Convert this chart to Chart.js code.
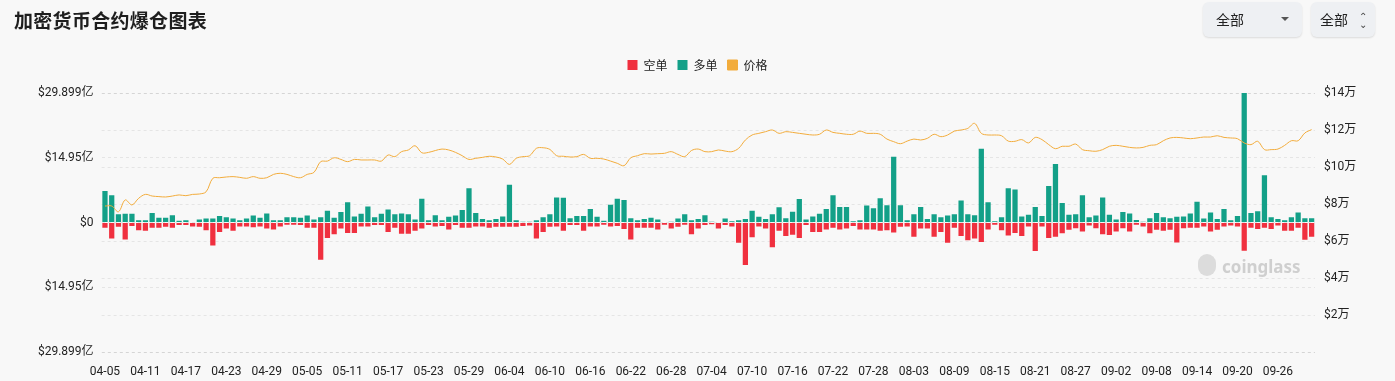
<!DOCTYPE html>
<html>
<head>
<meta charset="utf-8">
<script src="https://cdn.jsdelivr.net/npm/chart.js@4.4.1/dist/chart.umd.min.js"></script>
<style>
  html, body { margin:0; padding:0; background:#f8f8f8; width:1395px; height:381px; overflow:hidden; }
  #wrap { position:relative; width:1395px; height:381px; }
  #c { position:absolute; left:0; top:0; }
  .title { position:absolute; left:14px; top:6px; font-family:"Noto Sans CJK SC","Noto Sans",sans-serif; font-weight:700; font-size:19px; color:#1e1e1e; letter-spacing:0.3px; }
  .dd { position:absolute; top:2px; height:35px; background:#eef0f3; border-radius:6px; box-shadow:0 1px 2px rgba(0,0,0,0.12); font-family:"Noto Sans CJK SC","Noto Sans",sans-serif; font-size:14px; color:#222; line-height:35px; box-sizing:border-box; }
  .dd1 { left:1203px; width:99px; padding-left:13px; }
  .dd2 { left:1311px; width:64px; padding-left:9px; }
  .caret { position:absolute; right:13px; top:15px; width:0; height:0; border-left:4px solid transparent; border-right:4px solid transparent; border-top:4px solid #555; }
  .updown { position:absolute; right:8px; top:0; font-size:10px; color:#444; line-height:8px; padding-top:10px; text-align:center; }
  .wm { position:absolute; left:1222px; top:255px; font-family:"Noto Sans","DejaVu Sans",sans-serif; font-weight:700; font-size:17px; color:#cfcfcf; }
  .wmdot { position:absolute; left:1198px; top:254px; width:18px; height:22px; border-radius:9px; background:#dcdcdc; }
</style>
</head>
<body>
<div id="wrap">
  <canvas id="c" width="1395" height="381"></canvas>
  <div class="title">加密货币合约爆仓图表</div>
  <div class="dd dd1">全部<span class="caret"></span></div>
  <div class="dd dd2">全部<span class="updown">&#8963;<br>&#8964;</span></div>
  <div class="wmdot"></div>
  <div class="wm">coinglass</div>
</div>
<script>
// ---- categories (dates) ----
const dates = [
'04-05','04-06','04-07','04-08','04-09','04-10','04-11','04-12','04-13','04-14','04-15','04-16','04-17','04-18','04-19','04-20','04-21','04-22','04-23','04-24','04-25','04-26','04-27','04-28','04-29','04-30',
'05-01','05-02','05-03','05-04','05-05','05-06','05-07','05-08','05-09','05-10','05-11','05-12','05-13','05-14','05-15','05-16','05-17','05-18','05-19','05-20','05-21','05-22','05-23','05-24','05-25','05-26','05-27','05-28','05-29','05-30','05-31',
'06-01','06-02','06-03','06-04','06-05','06-06','06-07','06-08','06-09','06-10','06-11','06-12','06-13','06-14','06-15','06-16','06-17','06-18','06-19','06-20','06-21','06-22','06-23','06-24','06-25','06-26','06-27','06-28','06-29','06-30',
'07-01','07-02','07-03','07-04','07-05','07-06','07-07','07-08','07-09','07-10','07-11','07-12','07-13','07-14','07-15','07-16','07-17','07-18','07-19','07-20','07-21','07-22','07-23','07-24','07-25','07-26','07-27','07-28','07-29','07-30','07-31',
'08-01','08-02','08-03','08-04','08-05','08-06','08-07','08-08','08-09','08-10','08-11','08-12','08-13','08-14','08-15','08-16','08-17','08-18','08-19','08-20','08-21','08-22','08-23','08-24','08-25','08-26','08-27','08-28','08-29','08-30','08-31',
'09-01','09-02','09-03','09-04','09-05','09-06','09-07','09-08','09-09','09-10','09-11','09-12','09-13','09-14','09-15','09-16','09-17','09-18','09-19','09-20','09-21','09-22','09-23','09-24','09-25','09-26','09-27','09-28','09-29','09-30','10-01'
];

// ---- 多单 (long liquidations, 亿 USD) ----
const longVals = [
7.3,6.3,1.9,2.0,2.0,0.5,0.5,2.2,1.1,1.1,1.7,0.4,0.5,0.1,0.7,0.9,0.9,1.5,1.2,0.9,0.5,0.9,1.6,1.1,2.1,0.5,0.5,1.2,1.2,1.1,1.6,0.7,1.2,2.7,1.1,2.4,4.7,1.4,2.0,3.7,1.2,2.0,3.0,1.9,2.1,
1.9,0.7,5.5,0.5,1.7,0.5,1.3,1.6,2.9,7.9,2.2,0.8,0.5,0.8,1.4,8.7,0.5,0.2,0.2,0.5,1.2,1.9,5.8,5.7,1.0,1.5,1.5,3.1,1.3,0.4,4.1,5.5,5.2,1.0,0.5,0.8,1.1,0.7,0.1,0.2,0.9,1.9,0.5,0.8,1.7,
0.2,0.1,0.9,0.3,0.5,0.8,2.7,1.3,0.8,1.9,3.5,1.0,2.5,5.4,0.7,1.4,2.0,3.1,6.3,3.6,3.6,0.3,0.5,3.9,3.3,5.6,4.0,15.2,4.0,0.5,1.9,3.6,0.8,1.9,1.2,1.6,1.9,5.1,1.9,1.7,17.0,4.7,0.3,1.2,7.9,
7.6,1.4,1.8,3.6,1.5,8.4,13.5,4.5,1.8,1.9,6.3,1.2,1.6,5.8,1.8,0.7,2.4,2.1,0.6,0.2,1.0,2.2,1.2,1.0,1.3,1.4,2.1,4.8,0.9,2.3,0.8,3.1,0.5,1.5,29.899,2.2,2.6,10.9,1.2,0.8,0.5,1.2,2.3,1.0,1.0
];

// ---- 空单 (short liquidations, 亿 USD, drawn below zero) ----
const shortVals = [
1.2,3.7,1.0,3.9,0.8,1.8,1.9,1.2,1.2,1.0,1.2,0.6,0.6,0.9,1.0,1.8,5.3,2.2,1.4,1.9,0.9,0.9,1.1,0.9,1.4,1.6,0.9,0.5,0.5,0.6,1.2,1.2,8.6,3.6,2.7,1.4,2.4,2.4,0.9,0.9,0.6,0.6,2.2,1.2,2.6,
2.6,1.9,1.4,0.6,0.9,0.8,1.6,0.6,1.2,1.2,0.9,0.9,1.2,1.0,1.0,1.0,1.0,0.8,0.7,3.7,2.2,1.0,0.9,1.9,0.6,0.6,1.9,0.9,0.9,0.5,0.9,0.8,1.5,3.9,1.2,1.2,1.2,1.6,0.5,1.4,1.0,0.5,2.7,1.4,0.6,
0.4,1.4,0.6,0.9,4.7,9.8,3.4,0.9,1.4,5.7,1.9,3.1,2.8,3.6,0.6,2.2,2.2,1.6,1.2,1.6,1.4,0.8,1.6,1.6,1.6,1.9,1.8,2.3,1.0,0.9,3.3,1.4,1.4,3.3,2.2,4.7,1.2,3.1,4.1,3.7,4.5,1.6,0.5,1.8,3.0,
2.4,3.1,0.9,6.6,0.9,3.6,3.3,2.5,1.7,1.3,2.1,0.7,1.3,2.7,2.9,2.1,1.3,2.1,0.5,0.9,2.5,1.7,1.9,1.7,4.6,1.3,1.2,1.2,0.9,2.1,1.7,0.9,0.7,0.9,6.5,1.2,1.5,1.2,1.5,0.7,1.9,1.9,1.2,4.0,3.3
];

// ---- 价格 (BTC price, USD) ----
const priceVals = [
78900,78900,75800,82200,79500,83100,85200,84300,84000,83800,84300,84900,84500,85200,85400,86600,93900,94200,94600,94800,94400,93900,94800,93900,94200,96000,96600,96000,94800,94200,96000,97100,102900,103200,105000,104100,102900,104100,103800,103800,103800,103200,106500,105600,108300,
109200,111500,107700,107900,108900,109700,109200,107900,106100,104100,104700,105200,105800,105400,104300,101400,104700,105600,106100,110100,110400,109500,106100,105800,105400,105600,106800,104700,104700,104300,103200,102000,100700,105000,106100,107200,107000,107200,107400,108300,106800,105600,108900,109700,108300,
108300,109200,108600,108300,110100,114600,117300,118200,119100,120000,118200,119100,118700,118200,117700,117300,117700,120000,118700,118200,117700,117700,119400,118200,118200,117700,115100,113700,112600,114000,115100,114600,115500,117700,116400,117300,119400,120000,120900,123600,118200,117300,117300,116900,114000,
113900,114800,113000,116000,114800,112100,109900,111200,111200,112400,109400,108800,108500,109400,111200,111700,111200,110600,110300,110600,111700,112100,114200,115700,116000,115700,115300,115700,116200,116200,116900,116000,115700,115300,113000,112100,113900,109400,109400,109700,111700,114200,114200,118400,120200
];

// ---- axis tick labels ----
const leftTickValues = [-29.899, -14.9495, 0, 14.9495, 29.899];
const leftTickLabels = ['$29.899亿', '$14.95亿', '$0', '$14.95亿', '$29.899亿'];
const rightTickValues = [0, 20000, 40000, 60000, 80000, 100000, 120000, 140000];
const rightTickLabels = ['', '$2万', '$4万', '$6万', '$8万', '$10万', '$12万', '$14万'];
const xLabelEvery = 6;

const RED = '#F0303F', GREEN = '#13A088', ORANGE = '#F2AC3C';
const FONT = 'Roboto, "Noto Sans CJK SC", sans-serif';
const gridColor = 'rgba(0,0,0,0.075)';

Chart.defaults.font.family = FONT;
Chart.defaults.color = '#222';

// extra gap between the legend and the plot area
const legendGap = {
  id: 'legendGap',
  afterInit(chart) {
    const lg = chart.legend;
    if (!lg) return;
    const orig = lg.fit;
    lg.fit = function () { orig.call(this); this.height += 12; };
  }
};

new Chart(document.getElementById('c'), {
  plugins: [legendGap],
  data: {
    labels: dates,
    datasets: [
      { type:'bar', label:'空单', data: shortVals.map(v => -v), backgroundColor: RED, borderWidth:0, yAxisID:'yL', stack:'s', order:2,
        barPercentage:0.78, categoryPercentage:1.0 },
      { type:'bar', label:'多单', data: longVals, backgroundColor: GREEN, borderWidth:0, yAxisID:'yL', stack:'s', order:2,
        barPercentage:0.78, categoryPercentage:1.0 },
      { type:'line', label:'价格', data: priceVals, borderColor: ORANGE, backgroundColor: ORANGE, borderWidth:1,
        pointRadius:0, tension:0.35, fill:false, yAxisID:'yR', order:1 }
    ]
  },
  options: {
    responsive:false,
    animation:false,
    devicePixelRatio:1,
    layout: { padding: { top: 49, left: 0, right: 0, bottom: 0 } },
    plugins: {
      tooltip: { enabled:false },
      legend: {
        position:'top', align:'center',
        labels: { boxWidth:10, boxHeight:10, padding:10, color:'#222', font:{ size:12, family:'"Noto Sans CJK SC", sans-serif' },
          sort: (a, b) => a.datasetIndex - b.datasetIndex }
      }
    },
    scales: {
      x: {
        stacked:true, offset:true,
        grid:{ display:false }, border:{ display:false },
        ticks:{ autoSkip:false, maxRotation:0, minRotation:0, padding:5, color:'#222', font:{ size:12 },
          callback: (v, i) => (i % xLabelEvery === 0 ? dates[i] : '') },
        afterFit: s => { s.height = 29; }
      },
      yL: {
        type:'linear', position:'left', stacked:true,
        min: leftTickValues[0], max: leftTickValues[leftTickValues.length-1],
        afterBuildTicks: s => { s.ticks = leftTickValues.map(v => ({ value:v })); },
        grid:{ color:gridColor, drawTicks:false }, border:{ display:false, dash:[3,3] },
        ticks:{ padding:8, color:'#222', font:{ size:12 },
          callback: (v) => { const i = leftTickValues.findIndex(t => Math.abs(t - v) < 1e-6); return i >= 0 ? leftTickLabels[i] : ''; } },
        afterFit: s => { s.width = 101.6; }
      },
      yR: {
        type:'linear', position:'right',
        min: rightTickValues[0], max: rightTickValues[rightTickValues.length-1],
        afterBuildTicks: s => { s.ticks = rightTickValues.map(v => ({ value:v })); },
        grid:{ color:gridColor, drawTicks:false }, border:{ display:false, dash:[3,3] },
        ticks:{ padding:9, color:'#222', font:{ size:12 },
          callback: (v) => { const i = rightTickValues.indexOf(v); return i >= 0 ? rightTickLabels[i] : ''; } },
        afterFit: s => { s.width = 80; }
      }
    }
  }
});
</script>
</body>
</html>
